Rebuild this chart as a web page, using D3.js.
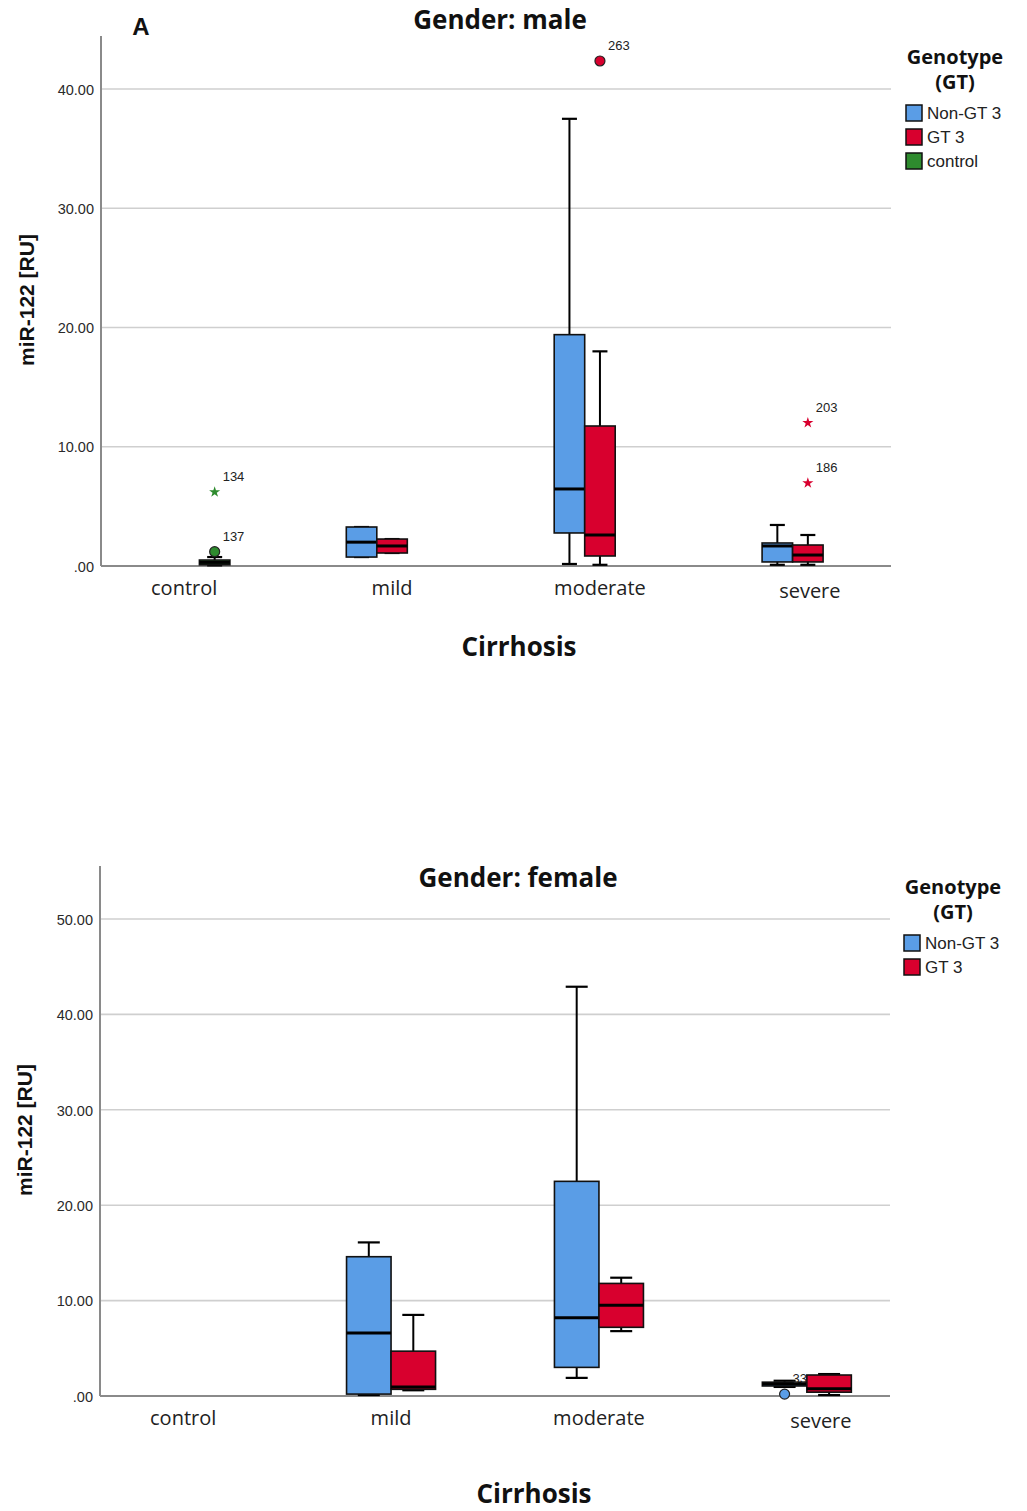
<!DOCTYPE html>
<html>
<head>
<meta charset="utf-8">
<script src="https://cdn.jsdelivr.net/npm/d3@7"></script>
<style>
  html, body { margin: 0; padding: 0; background: #fff; }
  svg { display: block; }
</style>
</head>
<body>
<svg id="chart" width="1027" height="1511"></svg>
<script>
// Cirrhosis stages on the x axis
const categories = ["control", "mild", "moderate", "severe"];

// Genotype groups shown in each panel
const maleGroups = ["Non-GT 3", "GT 3", "control"];
const femaleGroups = ["Non-GT 3", "GT 3"];

// Box statistics per category: [lower whisker, Q1, median, Q3, upper whisker]
const maleNonGT3 = [null, [0.75, 0.75, 2.0, 3.27, 3.27], [0.17, 2.77, 6.46, 19.4, 37.5], [0.1, 0.34, 1.68, 1.93, 3.44]];
const maleGT3 = [null, [1.09, 1.09, 1.68, 2.26, 2.26], [0.1, 0.84, 2.6, 11.74, 18.0], [0.1, 0.34, 0.92, 1.76, 2.6]];
const maleControl = [[0.05, 0.1, 0.3, 0.5, 0.75], null, null, null];

const femaleNonGT3 = [null, [0.1, 0.2, 6.6, 14.6, 16.1], [1.9, 3.0, 8.2, 22.5, 42.9], [0.95, 1.05, 1.25, 1.45, 1.6]];
const femaleGT3 = [null, [0.6, 0.7, 0.94, 4.7, 8.5], [6.8, 7.2, 9.5, 11.8, 12.4], [0.1, 0.4, 0.75, 2.2, 2.3]];

// Outlying cases: category, group, value, case number, marker (circle = outlier, star = extreme)
const maleOutliers = [
  ["control", "control", 6.2, "134", "star"],
  ["control", "control", 1.2, "137", "circle"],
  ["moderate", "GT 3", 42.35, "263", "circle"],
  ["severe", "GT 3", 12.0, "203", "star"],
  ["severe", "GT 3", 6.96, "186", "star"]
];
const femaleOutliers = [
  ["severe", "Non-GT 3", 0.2, "33", "circle"]
];

// Y axis ticks
const maleTicks = [0, 10, 20, 30, 40];
const femaleTicks = [0, 10, 20, 30, 40, 50];

const groupColor = { "Non-GT 3": "#5a9de6", "GT 3": "#d8002e", "control": "#2e8b2e" };

const svg = d3.select("#chart");
const fmtTick = v => v === 0 ? ".00" : d3.format(".2f")(v);
const boldFont = "Open Sans, sans-serif";

function drawPanel(opt) {
  const g = svg.append("g");
  const y = d3.scaleLinear().domain(opt.yDomain).range([opt.bottom, opt.bottom - (opt.yDomain[1] - opt.yDomain[0]) * opt.pxPerUnit]);
  const x = d3.scalePoint().domain(categories).range([opt.left, opt.right]).padding(0.4);
  const sub = d3.scaleBand().domain(opt.groups).range([-opt.boxW * opt.groups.length / 2, opt.boxW * opt.groups.length / 2]);

  // gridlines
  g.append("g").selectAll("line").data(opt.ticks.filter(t => t > 0)).join("line")
    .attr("x1", opt.left).attr("x2", opt.right)
    .attr("y1", d => y(d)).attr("y2", d => y(d))
    .attr("stroke", "#cfcfcf").attr("stroke-width", 1.6);

  // y axis
  const yAxis = g.append("g").attr("transform", `translate(${opt.left},0)`)
    .call(d3.axisLeft(y).tickValues(opt.ticks).tickFormat(fmtTick).tickSize(0).tickPadding(7));
  yAxis.select(".domain").remove();
  yAxis.selectAll("text").attr("font-family", "Liberation Sans, Arial, sans-serif")
    .attr("font-size", 14.5).attr("fill", "#2a2a2a").attr("dy", "0.36em");
  g.append("line").attr("x1", opt.left).attr("x2", opt.left).attr("y1", opt.top).attr("y2", opt.bottom)
    .attr("stroke", "#8a8a8a").attr("stroke-width", 2);
  g.append("line").attr("x1", opt.left).attr("x2", opt.right).attr("y1", opt.bottom).attr("y2", opt.bottom)
    .attr("stroke", "#8a8a8a").attr("stroke-width", 2);

  // category labels
  g.append("g").selectAll("text").data(categories).join("text")
    .attr("x", d => x(d) + (d === "severe" ? opt.severeShift : 0))
    .attr("y", d => opt.bottom + 29 + (d === "severe" ? 3 : 0))
    .attr("text-anchor", "middle")
    .attr("font-family", "Open Sans, sans-serif").attr("font-size", 20).attr("fill", "#222")
    .text(d => d);

  // boxes
  const boxes = [];
  opt.series.forEach(([grp, vals]) => {
    vals.forEach((s, i) => { if (s) boxes.push({ cat: categories[i], grp, s }); });
  });
  const bg = g.append("g").selectAll("g").data(boxes).join("g")
    .attr("transform", d => `translate(${x(d.cat) + sub(d.grp)},0)`);
  const bw = sub.bandwidth();
  const capW = opt.capW;
  // whiskers
  bg.append("line").attr("x1", bw / 2).attr("x2", bw / 2)
    .attr("y1", d => y(d.s[0])).attr("y2", d => y(d.s[4]))
    .attr("stroke", "#000").attr("stroke-width", 2);
  bg.append("line").attr("x1", bw / 2 - capW / 2).attr("x2", bw / 2 + capW / 2)
    .attr("y1", d => y(d.s[4])).attr("y2", d => y(d.s[4]))
    .attr("stroke", "#000").attr("stroke-width", 2.2);
  bg.append("line").attr("x1", bw / 2 - capW / 2).attr("x2", bw / 2 + capW / 2)
    .attr("y1", d => y(d.s[0])).attr("y2", d => y(d.s[0]))
    .attr("stroke", "#000").attr("stroke-width", 2.2);
  // box body
  bg.append("rect").attr("x", 0).attr("width", bw)
    .attr("y", d => y(d.s[3])).attr("height", d => Math.max(0.5, y(d.s[1]) - y(d.s[3])))
    .attr("fill", d => groupColor[d.grp]).attr("stroke", "#111").attr("stroke-width", 1.6);
  // median
  bg.append("line").attr("x1", 0).attr("x2", bw)
    .attr("y1", d => y(d.s[2])).attr("y2", d => y(d.s[2]))
    .attr("stroke", "#000").attr("stroke-width", 3);

  // outliers
  const og = g.append("g").selectAll("g").data(opt.outliers).join("g")
    .attr("transform", d => `translate(${x(d[0]) + sub(d[1]) + bw / 2},${y(d[2])})`);
  og.filter(d => d[4] === "circle").append("circle").attr("r", 5)
    .attr("fill", d => groupColor[d[1]]).attr("stroke", "#222").attr("stroke-width", 1.2);
  og.filter(d => d[4] === "star").append("path")
    .attr("d", d3.symbol(d3.symbolStar, 38))
    .attr("fill", d => groupColor[d[1]]);
  og.append("text").attr("x", 8).attr("y", -11)
    .attr("font-family", "Liberation Sans, Arial, sans-serif").attr("font-size", 13).attr("fill", "#222")
    .text(d => d[3]);

  // titles
  g.append("text").attr("x", opt.titleX).attr("y", opt.titleY).attr("text-anchor", "middle")
    .attr("font-family", boldFont).attr("font-weight", "bold").attr("font-size", 26).attr("fill", "#111")
    .text(opt.title);
  g.append("text").attr("transform", `translate(${opt.yTitleX},${opt.yTitleY}) rotate(-90)`)
    .attr("text-anchor", "middle")
    .attr("font-family", "Liberation Sans, Arial, sans-serif").attr("font-weight", "bold").attr("font-size", 21).attr("fill", "#111")
    .text("miR-122 [RU]");
  g.append("text").attr("x", opt.xTitleX).attr("y", opt.xTitleY).attr("text-anchor", "middle")
    .attr("font-family", boldFont).attr("font-weight", "bold").attr("font-size", 26).attr("fill", "#111")
    .text("Cirrhosis");

  // legend: two-line title, then one swatch per group
  const lg = g.append("g").attr("transform", `translate(${opt.legendX},${opt.legendY})`);
  lg.append("text").attr("x", 51).attr("y", 0).attr("text-anchor", "middle")
    .attr("font-family", boldFont).attr("font-weight", "bold").attr("font-size", 20).attr("fill", "#111")
    .text("Genotype");
  lg.append("text").attr("x", 51).attr("y", 25).attr("text-anchor", "middle")
    .attr("font-family", boldFont).attr("font-weight", "bold").attr("font-size", 20).attr("fill", "#111")
    .text("(GT)");
  const items = lg.selectAll("g.item").data(opt.groups).join("g").attr("class", "item")
    .attr("transform", (d, i) => `translate(0,${41 + i * 24})`);
  items.append("rect").attr("x", 2).attr("y", 0).attr("width", 16).attr("height", 16)
    .attr("fill", d => groupColor[d]).attr("stroke", "#111").attr("stroke-width", 1.5);
  items.append("text").attr("x", 23).attr("y", 14)
    .attr("font-family", "Liberation Sans, Arial, sans-serif").attr("font-size", 17).attr("fill", "#222")
    .text(d => d);
}

// Panel A: male
drawPanel({
  title: "Gender: male", titleX: 500, titleY: 29,
  top: 36, bottom: 566, left: 101, right: 891,
  yDomain: [0, 44.4], pxPerUnit: 11.925, ticks: maleTicks,
  groups: maleGroups, boxW: 30.5, capW: 15, severeShift: 2,
  series: [["Non-GT 3", maleNonGT3], ["GT 3", maleGT3], ["control", maleControl]],
  outliers: maleOutliers,
  yTitleX: 34, yTitleY: 300, xTitleX: 519, xTitleY: 656,
  legendX: 904, legendY: 64
});
svg.append("text").attr("x", 141).attr("y", 35).attr("text-anchor", "middle")
  .attr("font-family", "Liberation Sans, Arial, sans-serif").attr("font-weight", "bold").attr("font-size", 24).attr("fill", "#111")
  .text("A");

// Panel B: female
drawPanel({
  title: "Gender: female", titleX: 518, titleY: 887,
  top: 866, bottom: 1396, left: 100, right: 890,
  yDomain: [0, 55.5], pxPerUnit: 9.54, ticks: femaleTicks,
  groups: femaleGroups, boxW: 44.5, capW: 22, severeShift: 14,
  series: [["Non-GT 3", femaleNonGT3], ["GT 3", femaleGT3]],
  outliers: femaleOutliers,
  yTitleX: 32, yTitleY: 1130, xTitleX: 534, xTitleY: 1503,
  legendX: 902, legendY: 894
});
</script>
</body>
</html>
